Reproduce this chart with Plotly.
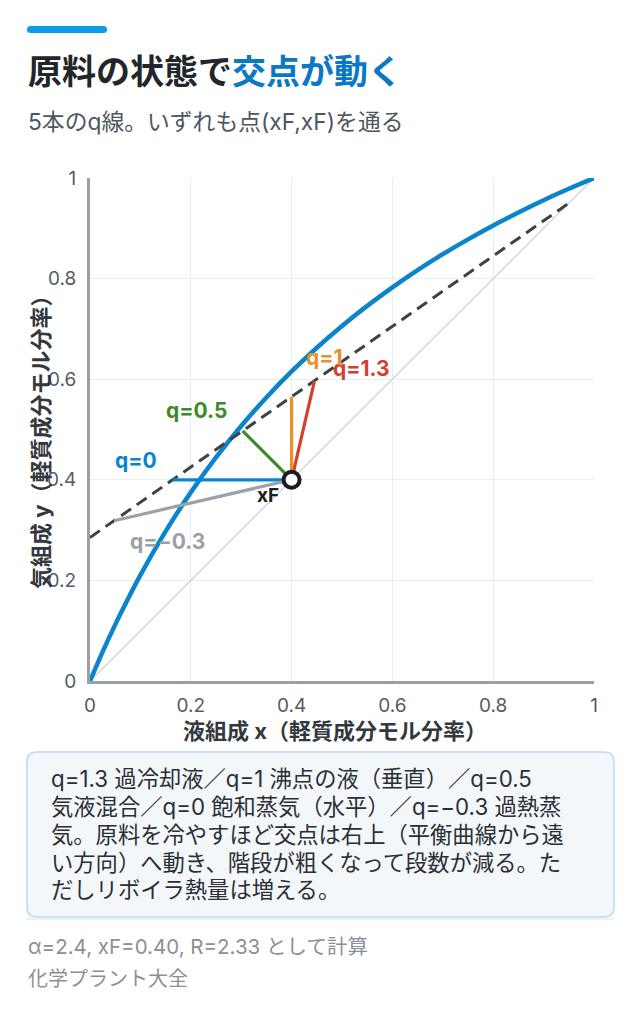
import plotly.graph_objects as go

# ---- data ----
alpha = 2.4
xF = 0.40
R = 2.33
xD = 0.95

eq_x = [0, 0.025, 0.05, 0.075, 0.1, 0.15, 0.2, 0.25, 0.3, 0.35, 0.4, 0.45, 0.5,
        0.55, 0.6, 0.65, 0.7, 0.75, 0.8, 0.85, 0.9, 0.95, 1.0]
eq_y = [0, 0.0580, 0.1121, 0.1627, 0.2105, 0.2975, 0.3750, 0.4444, 0.5070, 0.5638,
        0.6154, 0.6626, 0.7059, 0.7458, 0.7826, 0.8168, 0.8485, 0.8780, 0.9057,
        0.9315, 0.9558, 0.9785, 1.0]

rect_x = [0.0, 0.95]
rect_y = [0.2853, 0.95]

q_labels = ["q=1.3", "q=1", "q=0.5", "q=0", "q=\u22120.3"]
q_end_x = [0.4455, 0.40, 0.3029, 0.1639, 0.0478]
q_end_y = [0.5970, 0.5652, 0.4971, 0.40, 0.3187]
q_colors = ["#d3402f", "#e8902a", "#3e8a2a", "#0b84cc", "#9aa1ab"]

diag = [0, 1]
ticks = [0, 0.2, 0.4, 0.6, 0.8, 1]
tick_text = ["0", "0.2", "0.4", "0.6", "0.8", "1"]

note_lines = [
    "q=1.3 過冷却液／q=1 沸点の液（垂直）／q=0.5",
    "気液混合／q=0 飽和蒸気（水平）／q=\u22120.3 過熱蒸",
    "気。原料を冷やすほど交点は右上（平衡曲線から遠",
    "い方向）へ動き、階段が粗くなって段数が減る。た",
    "だしリボイラ熱量は増える。",
]

FONT = "Inter, Noto Sans CJK JP"

fig = go.Figure()

fig.add_trace(go.Scatter(x=diag, y=diag, mode="lines",
                         line=dict(color="#d3d9df", width=1.5), hoverinfo="skip"))
fig.add_trace(go.Scatter(x=eq_x, y=eq_y, mode="lines", line_shape="spline",
                         line=dict(color="#0b84cc", width=4.5), hoverinfo="skip"))
fig.add_trace(go.Scatter(x=rect_x, y=rect_y, mode="lines",
                         line=dict(color="#3d424a", width=3, dash="12px,7px"),
                         hoverinfo="skip"))
for lab, ex, ey, c in zip(q_labels, q_end_x, q_end_y, q_colors):
    fig.add_trace(go.Scatter(x=[xF, ex], y=[xF, ey], mode="lines",
                             line=dict(color=c, width=3.2), hoverinfo="skip"))
fig.add_trace(go.Scatter(x=[xF], y=[xF], mode="markers",
                         marker=dict(size=16, color="white",
                                     line=dict(color="#1a1d21", width=4)),
                         hoverinfo="skip"))

# label offsets (px) relative to each q-line end point
offs = {
    "q=1.3": dict(xanchor="left", xshift=16, yshift=12),
    "q=1": dict(xanchor="left", xshift=12, yshift=39),
    "q=0.5": dict(xanchor="right", xshift=-14, yshift=20),
    "q=0": dict(xanchor="right", xshift=-14, yshift=19),
    "q=\u22120.3": dict(xanchor="left", xshift=14, yshift=-21),
}
annotations = []
for lab, ex, ey, c in zip(q_labels, q_end_x, q_end_y, q_colors):
    o = offs[lab]
    annotations.append(dict(x=ex, y=ey, xref="x", yref="y", text="<b>" + lab + "</b>",
                            showarrow=False,
                            font=dict(family=FONT, size=21, color=c),
                            xanchor=o["xanchor"], yanchor="middle",
                            xshift=o["xshift"], yshift=o["yshift"]))
annotations.append(dict(x=xF, y=xF, xref="x", yref="y", text="<b>xF</b>", showarrow=False,
                        font=dict(family=FONT, size=19, color="#1a1d21"),
                        xanchor="right", yanchor="middle", xshift=-11, yshift=-16))

def px(x):
    return (x - 90) / 504

def py(y):
    return (681 - y) / 503

# title / subtitle
annotations.append(dict(x=px(26), y=py(72), xref="paper", yref="paper",
                        text="<b>原料の状態で<span style='color:#0a78c2'>交点が動く</span></b>",
                        showarrow=False, xanchor="left", yanchor="middle",
                        font=dict(family=FONT, size=34, color="#22262b")))
annotations.append(dict(x=px(26), y=py(121), xref="paper", yref="paper",
                        text="5本のq線。いずれも点(xF,xF)を通る",
                        showarrow=False, xanchor="left", yanchor="middle",
                        font=dict(family=FONT, size=22.8, color="#4f5660")))

# axis titles
annotations.append(dict(x=px(335), y=py(731), xref="paper", yref="paper",
                        text="<b>液組成 x（軽質成分モル分率）</b>",
                        showarrow=False, xanchor="center", yanchor="middle",
                        font=dict(family=FONT, size=22, color="#33383e")))
annotations.append(dict(x=px(41), y=py(437), xref="paper", yref="paper",
                        text="<b>気組成 y（軽質成分モル分率）</b>", textangle=-90,
                        showarrow=False, xanchor="center", yanchor="middle",
                        font=dict(family=FONT, size=22, color="#33383e")))

for i, ln in enumerate(note_lines):
    annotations.append(dict(x=px(49), y=py(778 + 28 * i), xref="paper", yref="paper",
                            text=ln, showarrow=False, xanchor="left", yanchor="middle",
                            font=dict(family=FONT, size=22.3, color="#2a2f35")))

annotations.append(dict(x=px(26), y=py(947), xref="paper", yref="paper",
                        text="\u03b1=2.4, xF=0.40, R=2.33 として計算",
                        showarrow=False, xanchor="left", yanchor="middle",
                        font=dict(family=FONT, size=20.5, color="#8a9099")))
annotations.append(dict(x=px(26), y=py(979), xref="paper", yref="paper",
                        text="化学プラント大全",
                        showarrow=False, xanchor="left", yanchor="middle",
                        font=dict(family=FONT, size=20, color="#8a9099")))

# shapes: accent bar and rounded note box
def rrect(x0, y0, x1, y1, r):
    X0, X1 = px(x0), px(x1)
    Y0, Y1 = py(y0), py(y1)
    rx, ry = r / 504, r / 503
    return (f"M{X0+rx},{Y0} L{X1-rx},{Y0} Q{X1},{Y0} {X1},{Y0-ry} "
            f"L{X1},{Y1+ry} Q{X1},{Y1} {X1-rx},{Y1} L{X0+rx},{Y1} "
            f"Q{X0},{Y1} {X0},{Y1+ry} L{X0},{Y0-ry} Q{X0},{Y0} {X0+rx},{Y0} Z")

shapes = [
    dict(type="path", xref="paper", yref="paper", path=rrect(27, 26, 107, 33, 3.5),
         fillcolor="#0b9be8", line=dict(width=0)),
    dict(type="path", xref="paper", yref="paper", path=rrect(27, 752, 614, 917, 10),
         fillcolor="#f3f7fa", line=dict(color="#b6dcf3", width=1.5)),
    dict(type="line", xref="paper", yref="paper", x0=px(27), x1=px(614),
         y0=py(919), y1=py(919), line=dict(color="#dde1e6", width=1)),
]

fig.update_layout(
    width=624, height=1013,
    margin=dict(l=82, r=38, t=170, b=340),
    paper_bgcolor="white", plot_bgcolor="white",
    showlegend=False,
    annotations=annotations,
    shapes=shapes,
    font=dict(family=FONT),
)
fig.update_xaxes(range=[0, 1], tickvals=ticks, ticktext=tick_text,
                 showgrid=True, gridcolor="#e9eef3", gridwidth=1,
                 zeroline=False, showline=True, linecolor="#9aa0a8", linewidth=3,
                 ticks="", ticklabelstandoff=5,
                 tickfont=dict(family=FONT, size=19, color="#555b63"))
fig.update_yaxes(range=[0, 1], tickvals=ticks, ticktext=tick_text,
                 showgrid=True, gridcolor="#e9eef3", gridwidth=1,
                 zeroline=False, showline=True, linecolor="#9aa0a8", linewidth=3,
                 ticks="", ticklabelstandoff=7,
                 tickfont=dict(family=FONT, size=19, color="#555b63"))

fig.write_html("out.html")
